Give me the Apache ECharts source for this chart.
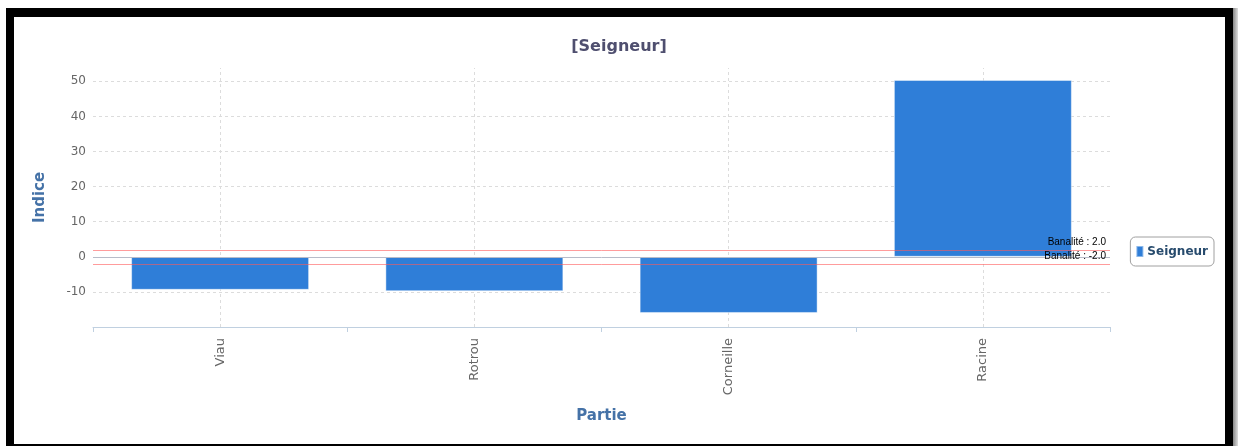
<!DOCTYPE html>
<html>
<head>
<meta charset="utf-8">
<script src="https://cdn.jsdelivr.net/npm/echarts@6/dist/echarts.min.js"></script>
<style>
html,body{margin:0;padding:0;background:#fff;width:1238px;height:446px;overflow:hidden;}
#chart{position:absolute;left:0;top:0;width:1238px;height:446px;}
#frame{position:absolute;left:6px;top:8px;width:1211px;height:427px;border-style:solid;border-color:#000;border-width:9px 8px 3px 8px;pointer-events:none;}
#shade{position:absolute;left:1233px;top:8px;width:5px;height:438px;background:linear-gradient(to right,#888,#ddd);}
</style>
</head>
<body>
<div id="chart"></div>
<div id="frame"></div>
<div id="shade"></div>
<script>
const categories = ['Viau', 'Rotrou', 'Corneille', 'Racine'];
const seigneurValues = [-9.4, -9.8, -16.0, 50.4];
const banaliteValues = [2.0, -2.0];
const yTicks = [-10, 0, 10, 20, 30, 40, 50];
const titleText = '[Seigneur]';
const seriesName = 'Seigneur';

const chart = echarts.init(document.getElementById('chart'), null, {renderer: 'canvas'});
const noSym = ['none', 'none'];
chart.setOption({
  animation: false,
  backgroundColor: '#ffffff',
  title: {
    text: titleText,
    left: 'center',
    top: 34,
    textStyle: {color: '#4f4f6f', fontSize: 16, fontWeight: 'bold', fontFamily: 'DejaVu Sans'}
  },
  legend: {
    data: [seriesName],
    orient: 'vertical',
    right: 24,
    top: 237,
    icon: 'rect',
    itemWidth: 7,
    itemHeight: 11,
    itemGap: 4,
    padding: [8, 6, 8, 5],
    borderColor: '#a0a0a0',
    borderWidth: 1,
    borderRadius: 5,
    textStyle: {color: '#274b6d', fontSize: 12, fontWeight: 'bold', fontFamily: 'DejaVu Sans', padding: [0, 0, 0, -1]}
  },
  grid: {left: 93, right: 128, top: 68, bottom: 119, containLabel: false},
  xAxis: {
    type: 'category',
    data: categories,
    boundaryGap: true,
    name: 'Partie',
    nameLocation: 'middle',
    nameGap: 82,
    nameTextStyle: {color: '#4572A7', fontSize: 15, fontWeight: 'bold', fontFamily: 'DejaVu Sans'},
    axisLine: {show: true, onZero: false, lineStyle: {color: '#C0D0E0', width: 1}},
    axisTick: {show: true, length: 5, lineStyle: {color: '#C0D0E0'}},
    axisLabel: {rotate: 90, margin: 11, color: '#666666', fontSize: 13, fontFamily: 'DejaVu Sans'},
    splitLine: {show: false}
  },
  yAxis: {
    type: 'value',
    min: -20,
    max: 53.8,
    interval: 10,
    name: 'Indice',
    nameLocation: 'middle',
    nameGap: 45,
    nameTextStyle: {color: '#4572A7', fontSize: 15, fontWeight: 'bold', fontFamily: 'DejaVu Sans'},
    axisLine: {show: false},
    axisTick: {show: false},
    axisLabel: {showMinLabel: false, showMaxLabel: false, margin: 7, color: '#666666', fontSize: 12, fontFamily: 'DejaVu Sans'},
    splitLine: {show: false}
  },
  series: [
    {
      name: 'grid',
      type: 'line',
      data: [],
      z: 0,
      silent: true,
      markLine: {
        z: 0,
        silent: true,
        symbol: noSym,
        label: {show: false},
        lineStyle: {color: '#dcdcdc', type: [3, 3], width: 1},
        data: yTicks.map(v => ({yAxis: v})).concat(categories.map(c => ({xAxis: c})))
      }
    },
    {
      name: seriesName,
      type: 'bar',
      data: seigneurValues,
      barWidth: '70%',
      z: 3,
      itemStyle: {color: '#2F7ED8', borderColor: 'rgba(255,255,255,0.45)', borderWidth: 1}
    },
    {
      name: 'banalite',
      type: 'line',
      data: [],
      z: 6,
      silent: true,
      markLine: {
        z: 6,
        silent: true,
        symbol: noSym,
        data: [{yAxis: 0, lineStyle: {color: '#b8bcc8', type: 'solid', width: 1}, label: {show: false}}].concat(
          banaliteValues.map(v => ({
            yAxis: v,
            lineStyle: {color: 'rgba(255,90,90,0.6)', type: 'solid', width: 1},
            label: {
              show: true,
              position: 'insideEndTop',
              distance: [4, 3],
              formatter: 'Banalité : ' + v.toFixed(1),
              color: '#000',
              fontSize: 10,
              fontFamily: 'Liberation Sans'
            }
          })))
      }
    }
  ]
});
</script>
</body>
</html>
